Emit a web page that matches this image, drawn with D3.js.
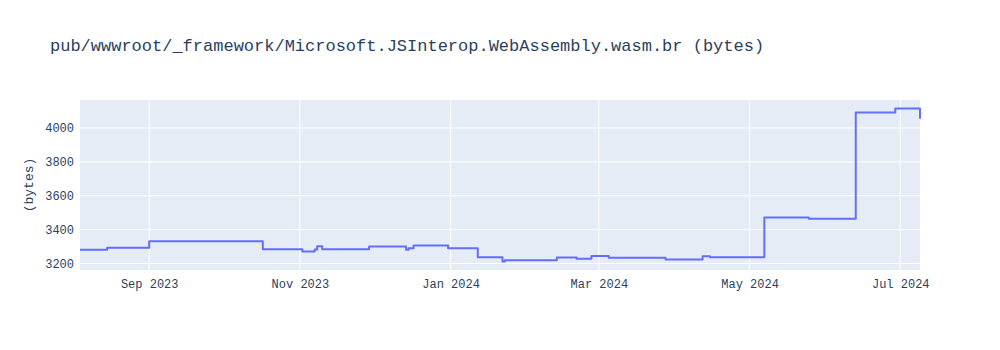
<!DOCTYPE html>
<html>
<head>
<meta charset="utf-8">
<script src="https://cdn.jsdelivr.net/npm/d3@7"></script>
<style>
  body { margin: 0; background: #fff; }
  svg { display: block; }
  .tick text { font-family: "Liberation Mono", "Courier New", monospace; }
</style>
</head>
<body>
<div id="chart"></div>
<script>
// Snapshot dates and file sizes (bytes)
const dates = [
  '2023-08-04', '2023-08-15', '2023-09-01', '2023-10-17', '2023-11-02',
  '2023-11-07', '2023-11-08', '2023-11-10', '2023-11-29', '2023-12-14',
  '2023-12-15', '2023-12-17', '2023-12-31', '2024-01-12', '2024-01-22',
  '2024-01-23', '2024-02-13', '2024-02-21', '2024-02-27', '2024-03-05',
  '2024-03-28', '2024-04-12', '2024-04-15', '2024-05-07', '2024-05-25',
  '2024-06-13', '2024-06-29', '2024-07-09'
];
const sizes = [
  3281, 3293, 3332, 3284, 3271,
  3283, 3302, 3284, 3300, 3281,
  3290, 3306, 3290, 3237, 3212,
  3219, 3235, 3228, 3245, 3234,
  3224, 3243, 3237, 3472, 3464,
  4091, 4115, 4054
];
const yTicks = [3200, 3400, 3600, 3800, 4000];
const xTickDates = ['2023-09-01', '2023-11-01', '2024-01-01', '2024-03-01', '2024-05-01', '2024-07-01'];
const titleText = 'pub/wwwroot/_framework/Microsoft.JSInterop.WebAssembly.wasm.br (bytes)';
const yLabel = '(bytes)';

const width = 1000, height = 350;
const margin = { top: 100, right: 80, bottom: 80, left: 80 };
const innerW = width - margin.left - margin.right;
const innerH = height - margin.top - margin.bottom;
const fontMono = '"Liberation Mono", "Courier New", monospace';
const textColor = '#2a3f5f';

const parse = d3.timeParse('%Y-%m-%d');
const data = dates.map((d, i) => ({ date: parse(d), value: sizes[i] }));
const xTicks = xTickDates.map(parse);

const svg = d3.select('#chart').append('svg')
  .attr('width', width)
  .attr('height', height);

svg.append('text')
  .attr('x', 50)
  .attr('y', 51)
  .attr('font-family', fontMono)
  .attr('font-size', 17)
  .attr('fill', textColor)
  .text(titleText);

const g = svg.append('g').attr('transform', `translate(${margin.left},${margin.top})`);

g.append('rect')
  .attr('width', innerW)
  .attr('height', innerH)
  .attr('fill', '#e5ecf6');

const x = d3.scaleTime()
  .domain(d3.extent(data, d => d.date))
  .range([0, innerW]);

const [vmin, vmax] = d3.extent(data, d => d.value);
const pad = (vmax - vmin) * 0.0555;
const y = d3.scaleLinear()
  .domain([vmin - pad, vmax + pad])
  .range([innerH, 0]);

// Grid lines
g.append('g')
  .selectAll('line')
  .data(yTicks)
  .join('line')
  .attr('x1', 0).attr('x2', innerW)
  .attr('y1', d => y(d)).attr('y2', d => y(d))
  .attr('stroke', '#fff').attr('stroke-width', 1);

g.append('g')
  .selectAll('line')
  .data(xTicks)
  .join('line')
  .attr('x1', d => x(d)).attr('x2', d => x(d))
  .attr('y1', 0).attr('y2', innerH)
  .attr('stroke', '#fff').attr('stroke-width', 1);

// Axes
const xAxis = g.append('g')
  .attr('transform', `translate(0,${innerH})`)
  .call(d3.axisBottom(x).tickValues(xTicks).tickFormat(d3.timeFormat('%b %Y')).tickSize(0).tickPadding(9));
xAxis.select('.domain').remove();
xAxis.selectAll('text').attr('font-size', 12).attr('fill', textColor);

const yAxis = g.append('g')
  .call(d3.axisLeft(y).tickValues(yTicks).tickFormat(d3.format('d')).tickSize(0).tickPadding(6));
yAxis.select('.domain').remove();
yAxis.selectAll('text').attr('font-size', 12).attr('fill', textColor);

svg.append('text')
  .attr('transform', `translate(33,${margin.top + innerH / 2}) rotate(-90)`)
  .attr('text-anchor', 'middle')
  .attr('font-family', fontMono)
  .attr('font-size', 13)
  .attr('fill', textColor)
  .text(yLabel);

// Series line
const line = d3.line()
  .x(d => x(d.date))
  .y(d => y(d.value))
  .curve(d3.curveStepAfter);

g.append('path')
  .datum(data)
  .attr('fill', 'none')
  .attr('stroke', '#636efa')
  .attr('stroke-width', 2)
  .attr('stroke-linejoin', 'round')
  .attr('d', line);
</script>
</body>
</html>
